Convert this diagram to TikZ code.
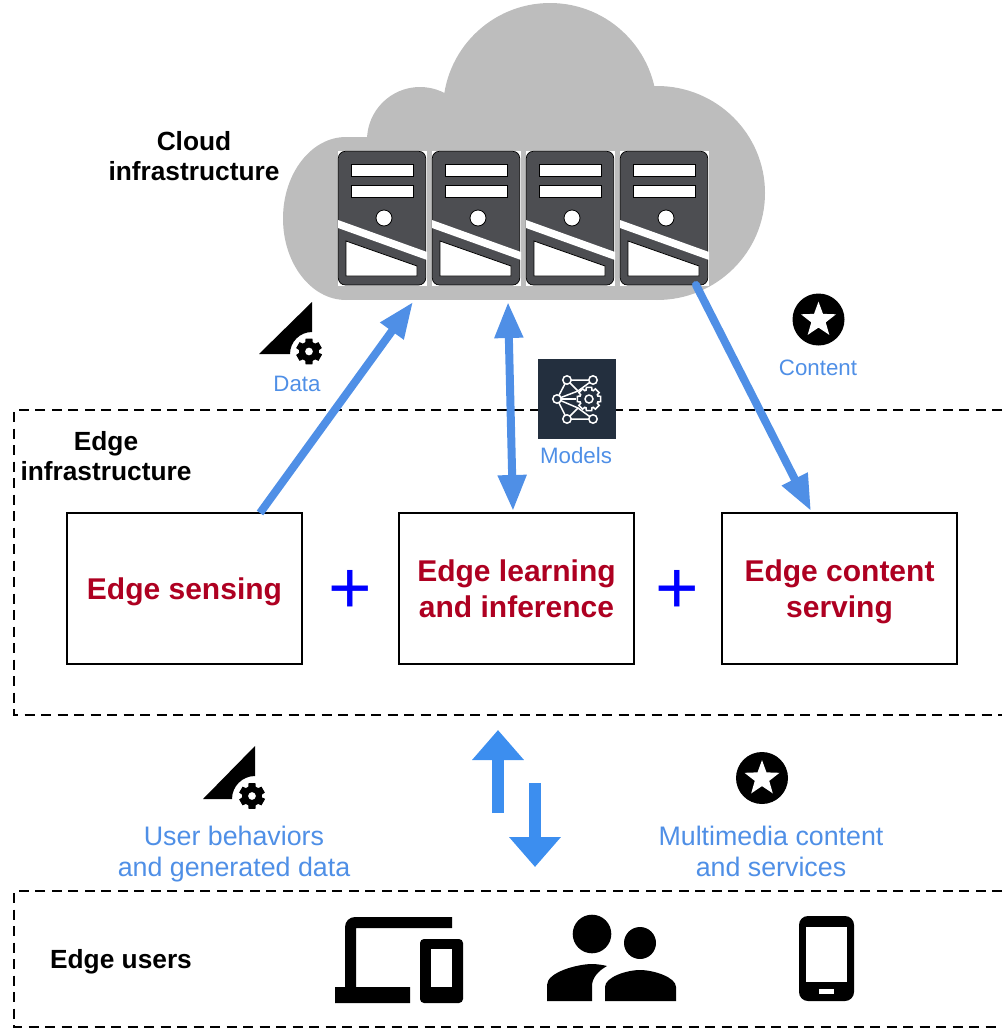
\documentclass[tikz,border=0pt]{standalone}
\usepackage{fontspec}
\setmainfont{Liberation Sans}
\usetikzlibrary{arrows.meta}
\definecolor{cloudgray}{HTML}{BDBDBD}
\definecolor{serverdark}{HTML}{4D4E52}
\definecolor{linkblue}{HTML}{4F8FE6}
\definecolor{flowblue}{HTML}{3C8EEF}
\definecolor{redtext}{HTML}{AE0021}
\definecolor{modeldark}{HTML}{232F3E}
\newcommand{\gearpts}[2]{(-13:#2) \foreach \a in {0,45,...,315} { -- (\a-13:#2) -- (\a+13:#2) -- (\a+18:#1) -- (\a+27:#1) } -- cycle}
\newcommand{\gearsix}[2]{(12:#2) \foreach \a in {30,90,...,330} { -- (\a-15:#2) -- (\a+15:#2) -- (\a+22:#1) -- (\a+38:#1) } -- cycle}
\newcommand{\starpts}[2]{(-90:#1) \foreach \a in {-90,-18,54,126,198} { -- (\a:#1) -- (\a+36:#2) } -- cycle}
\tikzset{
  x=1pt,y=-1pt,
  blackhead/.style={font=\bfseries\fontsize{26.3}{30.5}\selectfont,align=center,inner sep=0pt},
  bluelabel/.style={font=\fontsize{22.3}{26}\selectfont,text=linkblue,align=center,inner sep=0pt},
  biglabel/.style={font=\fontsize{26.8}{31}\selectfont,text=linkblue,align=center,inner sep=0pt},
  taskbox/.style={draw=black,line width=2pt,fill=white,minimum width=235pt,minimum height=151pt,inner sep=0pt},
  tasktext/.style={font=\bfseries\fontsize{30}{36}\selectfont,text=redtext,align=center,inner sep=0pt},
  plussign/.style={font=\fontsize{74.6}{75}\selectfont,text=blue,inner sep=0pt},
  zone/.style={draw=black,line width=2pt,dash pattern=on 10pt off 6.5pt},
  linkarrow/.style={draw=linkblue,line width=8pt,-{Triangle[length=36pt,width=27pt]}},
  linkboth/.style={draw=linkblue,line width=8pt,{Triangle[length=36pt,width=27pt]}-{Triangle[length=36pt,width=27pt]}},
  flowarrow/.style={draw=flowblue,line width=12.5pt,-{Triangle[length=30pt,width=50pt]}},
}
\begin{document}
\begin{tikzpicture}
\useasboundingbox (0,0) rectangle (1002,1028);
% cloud
\fill[cloudgray] (550,110) circle [radius=107];
\fill[cloudgray] (420,140) circle [radius=53];
\fill[cloudgray] (346,218.5) ellipse [x radius=63,y radius=81.5];
\fill[cloudgray] (657,193) ellipse [x radius=108,y radius=107];
\fill[cloudgray] (346,137) rectangle (655,300);
% servers
\foreach \dx in {0,94,188,282}{
\begin{scope}[xshift=\dx pt]
  \fill[white] (338,151) rectangle (427,286);
  \draw[fill=serverdark,draw=black,line width=0.7pt,rounded corners=7pt] (338.3,151.3) rectangle (425.7,285);
  \draw[fill=white,draw=black,line width=0.8pt] (351.5,164) rectangle (413,176.5);
  \draw[fill=white,draw=black,line width=0.8pt] (351.5,185) rectangle (413,197.5);
  \draw[fill=white,draw=black,line width=0.8pt] (384,218) circle [radius=8];
  \fill[white] (338,220) -- (427,252) -- (427,260) -- (338,228) -- cycle;
  \draw[fill=white,draw=black,line width=0.8pt] (346,241) -- (417,266) -- (417,276) -- (346,276) -- cycle;
\end{scope}}
% dashed zones
\draw[zone] (1002,410) -- (14,410) -- (14,715) -- (1002,715);
\draw[zone] (1002,891) -- (14,891) -- (14,1027) -- (1002,1027);
% labels
\node[blackhead] (cloudlabel) at (194,156) {Cloud\\infrastructure};
\node[blackhead] (edgelabel) at (106,456) {Edge\\infrastructure};
\node[blackhead] (userslabel) at (121,962) {Edge users};
% boxes
\node[taskbox] (sensing) at (184.5,588.5) {};
\node[taskbox] (learning) at (516.5,588.5) {};
\node[taskbox] (serving) at (839.5,588.5) {};
\node[tasktext] (sensingtext) at (184.5,591.5) {Edge sensing};
\node[tasktext] (learningtext) at (516.5,588.5) {Edge learning\\and inference};
\node[tasktext] (servingtext) at (839.5,591.5) {Edge content\\serving};
\node[plussign] (plusa) at (350.7,592) {+};
\node[plussign] (plusb) at (677.7,592) {+};
% model icon
\node[fill=modeldark,minimum width=78pt,minimum height=80pt,inner sep=0pt] (modelicon) at (577,399) {};
\begin{scope}[white,line width=1.5pt]
  \draw (567,380) -- (593,380) -- (578,391) -- (567,380) -- (557,399) -- (567,419) -- (593,419) -- (578,408) -- (567,419);
  \draw (557,399) -- (578,391);
  \draw (557,399) -- (578,408);
  \draw (557,399) -- (576,399);
  \foreach \p in {(567,380),(593,380),(557,399),(567,419),(593,419)}{
    \draw[fill=modeldark] \p circle [radius=4.2];
  }
  \begin{scope}[shift={(589,399)}]
    \draw[fill=modeldark] \gearpts{9.3}{12};
    \draw[fill=modeldark] (0,0) circle [radius=4];
  \end{scope}
\end{scope}
\node[bluelabel] (modelslabel) at (576,456) {Models};
\node[bluelabel] (datalabel) at (297,384) {Data};
\node[bluelabel] (contentlabel) at (818,368) {Content};
% connectors
\coordinate (dataTip) at (413,302);
\coordinate (dataFoot) at (260,513);
\coordinate (modelTop) at (508,302);
\coordinate (modelFoot) at (513,511);
\coordinate (contentTop) at (696,285);
\coordinate (contentFoot) at (811,511);
\draw[linkarrow] (dataFoot) -- (dataTip);
\draw[linkboth] (modelTop) -- (modelFoot);
\draw[linkarrow,line cap=round] (contentTop) -- (contentFoot);
\coordinate (upFoot) at (498,813);
\coordinate (upTip) at (498,730);
\coordinate (downTop) at (535,783);
\coordinate (downTip) at (535,867);
\draw[flowarrow] (upFoot) -- (upTip);
\draw[flowarrow] (downTop) -- (downTip);
% data icons
\fill[black] (259,354) -- (312,302) -- (312,332) arc[start angle=-90,end angle=-180,radius=22] -- cycle;
\begin{scope}[shift={(309,351.5)}]
  \fill[black,even odd rule] \gearsix{10}{13.3} (0,0) circle [radius=4];
\end{scope}
\fill[black] (203,799) -- (255,746) -- (255,776) arc[start angle=-90,end angle=-180,radius=23] -- cycle;
\begin{scope}[shift={(252,796)}]
  \fill[black,even odd rule] \gearsix{10}{13.3} (0,0) circle [radius=4];
\end{scope}
% star icons
\fill[black] (818.5,319.5) circle [radius=26];
\fill[white,shift={(818.5,320)}] \starpts{18.4}{7.6};
\fill[black] (762,778) circle [radius=26];
\fill[white,shift={(762,778.5)}] \starpts{18.4}{7.6};
% flow labels
\node[biglabel] (behaviourlabel) at (234,854.5) {User behaviors\\and generated data};
\node[biglabel] (medialabel) at (771,851.5) {Multimedia content\\and services};
% device icons
\fill[black] (452,917) -- (355,917) arc[start angle=-90,end angle=-180,radius=10] -- (345,987) -- (335,987) -- (335,1003) -- (410,1003) -- (410,987) -- (356,987) -- (356,928) -- (452,928) -- cycle;
\fill[black,rounded corners=4pt] (420,939) rectangle (463,1003);
\fill[white] (431,949) rectangle (452,987);
\fill[black] (592,934) circle [radius=19.3];
\fill[black] (640,943) circle [radius=16];
\fill[black] (547,1001) -- (547,985) .. controls (547,972) and (578,964) .. (592,964) .. controls (597,964) and (603,965) .. (607,966) .. controls (598,971) and (592,978) .. (592,986) -- (592,1001) -- cycle;
\fill[black] (605,1001) -- (605,987) .. controls (605,977) and (627,970) .. (640,970) .. controls (653,970) and (676,977) .. (676,987) -- (676,1001) -- cycle;
\fill[black,rounded corners=9pt] (799,916) rectangle (854,1001);
\fill[white] (806,927) rectangle (847,982);
\fill[white] (819,989) rectangle (834,994);
\end{tikzpicture}
\end{document}
